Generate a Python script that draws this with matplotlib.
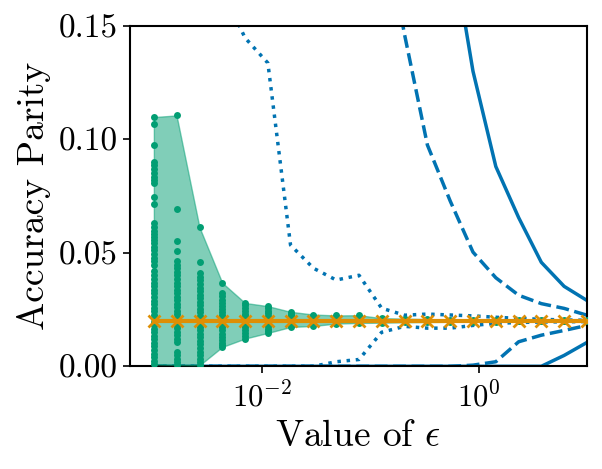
"""Accuracy parity vs privacy budget epsilon."""

import matplotlib

matplotlib.use("Agg")
import matplotlib.pyplot as plt

plt.rcParams["font.family"] = "serif"
plt.rcParams["font.serif"] = ["cmr10"]
plt.rcParams["mathtext.fontset"] = "cm"
plt.rcParams["axes.formatter.use_mathtext"] = True

BLUE = "#0173B2"
GREEN = "#029E73"
ORANGE = "#DE8F05"

eps = [0.001, 0.00162, 0.00264, 0.00428, 0.00695, 0.0113, 0.0183, 0.0298, 0.0483, 0.0785,
       0.127, 0.207, 0.336, 0.546, 0.886, 1.44, 2.34, 3.79, 6.16, 10.0]

# empirical parity per run, one list per epsilon
runs = [
    [0.1098, 0.1067, 0.0973, 0.0901, 0.0886, 0.0869, 0.0851, 0.0836, 0.0819, 0.0807, 0.0745,
     0.0714, 0.0631, 0.0613, 0.0597, 0.0584, 0.0571, 0.0555, 0.0541, 0.0524, 0.0511, 0.0493,
     0.0478, 0.0463, 0.0447, 0.0418, 0.0401, 0.0386, 0.0368, 0.0353, 0.0335, 0.0321, 0.0304,
     0.0289, 0.0275, 0.0258, 0.0244, 0.0227, 0.0213, 0.0196, 0.0181, 0.0164, 0.0151, 0.0133,
     0.0119, 0.0102, 0.0088, 0.0071, 0.0056, 0.0039, 0.0024, 0.0008],
    [0.1105, 0.0694, 0.0550, 0.0506, 0.0462, 0.0446, 0.0432, 0.0415, 0.0401, 0.0384, 0.0369,
     0.0352, 0.0338, 0.0323, 0.0306, 0.0292, 0.0275, 0.0261, 0.0244, 0.0229, 0.0212, 0.0198,
     0.0181, 0.0167, 0.0150, 0.0136, 0.0121, 0.0109, 0.0065, 0.0049, 0.0034, 0.0018, 0.0006],
    [0.0612, 0.0460, 0.0409, 0.0394, 0.0378, 0.0361, 0.0347, 0.0330, 0.0315, 0.0300, 0.0284,
     0.0269, 0.0252, 0.0237, 0.0222, 0.0205, 0.0190, 0.0175, 0.0158, 0.0143, 0.0128, 0.0112,
     0.0097, 0.0080, 0.0065, 0.0050, 0.0034, 0.0018, 0.0004],
    [0.0368, 0.0321, 0.0308, 0.0294, 0.0280, 0.0267, 0.0254, 0.0240, 0.0226, 0.0213, 0.0199,
     0.0185, 0.0172, 0.0158, 0.0144, 0.0131, 0.0117, 0.0104, 0.0092, 0.0085],
    [0.0279, 0.0268, 0.0256, 0.0244, 0.0232, 0.0220, 0.0208, 0.0196, 0.0184, 0.0172, 0.0160,
     0.0148, 0.0135, 0.0122],
    [0.0265, 0.0255, 0.0244, 0.0234, 0.0223, 0.0212, 0.0200, 0.0188, 0.0176, 0.0165, 0.0155,
     0.0147],
    [0.0240, 0.0230, 0.0220, 0.0210, 0.0200, 0.0190, 0.0181, 0.0173],
    [0.0228, 0.0218, 0.0208, 0.0198, 0.0188, 0.0178],
    [0.0224, 0.0214, 0.0204, 0.0196, 0.0188],
    [0.0225, 0.0215, 0.0205, 0.0197, 0.0191],
    [0.0212, 0.0204, 0.0192],
    [0.0210, 0.0201, 0.0194],
    [0.0208, 0.0201, 0.0195],
    [0.0206, 0.0200, 0.0196],
    [0.0205, 0.0200, 0.0196],
    [0.0204, 0.0200, 0.0197],
    [0.0203, 0.0200, 0.0198],
    [0.0203, 0.0200, 0.0198],
    [0.0202, 0.0200, 0.0199],
    [0.0202, 0.0200, 0.0199],
]

mean_parity = [0.0200, 0.0200, 0.0200, 0.0200, 0.0200, 0.0200, 0.0200, 0.0200, 0.0200, 0.0200,
               0.0200, 0.0200, 0.0200, 0.0200, 0.0200, 0.0200, 0.0200, 0.0200, 0.0200, 0.0200]

# theoretical bounds (upper / lower) for three confidence levels
solid_hi = [2.0, 1.6, 1.3, 1.05, 0.86, 0.72, 0.61, 0.52, 0.44, 0.38,
            0.33, 0.28, 0.24, 0.19, 0.13, 0.088, 0.0655, 0.0458, 0.0352, 0.0290]
solid_lo = [0.0, 0.0, 0.0, 0.0, 0.0, 0.0, 0.0, 0.0, 0.0, 0.0,
            0.0, 0.0, 0.0, 0.0, 0.0, 0.0, 0.0, 0.0, 0.0048, 0.0105]
dashed_hi = [1.0, 0.8, 0.62, 0.5, 0.42, 0.36, 0.31, 0.27, 0.24, 0.22,
             0.20, 0.146, 0.0975, 0.0728, 0.0503, 0.039, 0.0313, 0.0276, 0.0255, 0.0225]
dashed_lo = [0.0, 0.0, 0.0, 0.0, 0.0, 0.0, 0.0, 0.0, 0.0, 0.0,
             0.0, 0.0, 0.0, 0.0, 0.0005, 0.0020, 0.0108, 0.0137, 0.0158, 0.0180]
dotted_hi = [0.60, 0.40, 0.26, 0.166, 0.1447, 0.1336, 0.0534, 0.0432, 0.0380, 0.0401,
             0.0256, 0.0225, 0.0230, 0.0226, 0.0222, 0.0216, 0.0211, 0.0207, 0.0204, 0.0203]
dotted_lo = [0.0, 0.0, 0.0, 0.0, 0.0, 0.0, 0.0, 0.0, 0.0020, 0.0030,
             0.0150, 0.0176, 0.0168, 0.0168, 0.0180, 0.0189, 0.0193, 0.0195, 0.0196, 0.0197]


def main() -> None:
    fig = plt.figure(figsize=(6.02, 4.69), dpi=100)
    ax = fig.add_axes([0.216, 0.219, 0.759, 0.726])

    for hi, lo, ls in [(solid_hi, solid_lo, "-"), (dashed_hi, dashed_lo, "--"), (dotted_hi, dotted_lo, ":")]:
        ax.plot(eps, hi, color=BLUE, linestyle=ls, linewidth=2.5, zorder=2)
        ax.plot(eps, lo, color=BLUE, linestyle=ls, linewidth=2.5, zorder=2)

    run_max = [max(r) for r in runs]
    run_min = [min(r) for r in runs]
    ax.fill_between(eps, run_min, run_max, color=GREEN, alpha=0.5, linewidth=1.0, zorder=3)
    for e, r in zip(eps, runs):
        ax.scatter([e] * len(r), r, s=25, color=GREEN, linewidths=0, zorder=4)

    ax.plot(eps, mean_parity, color=ORANGE, linewidth=3, marker="x", markersize=8,
            markeredgewidth=2, zorder=5)

    ax.set_xscale("log")
    ax.set_xlim(10 ** -3.22, 10.0)
    ax.set_ylim(0, 0.15)
    ax.set_yticks([0.0, 0.05, 0.10, 0.15])
    ax.set_yticklabels(["0.00", "0.05", "0.10", "0.15"])
    ax.set_xticks([1e-2, 1e0])
    ax.minorticks_off()
    ax.tick_params(axis="y", labelsize=24, width=1.2, length=5)
    ax.tick_params(axis="x", labelsize=22, width=1.2, length=5, pad=6)
    for s in ax.spines.values():
        s.set_linewidth(1.5)
    ax.set_xlabel(r"Value of $\epsilon$", fontsize=27, labelpad=5)
    ax.set_ylabel("Accuracy Parity", fontsize=27, labelpad=6)
    fig.savefig("out.png", dpi=100)
    plt.close(fig)


if __name__ == "__main__":
    main()
